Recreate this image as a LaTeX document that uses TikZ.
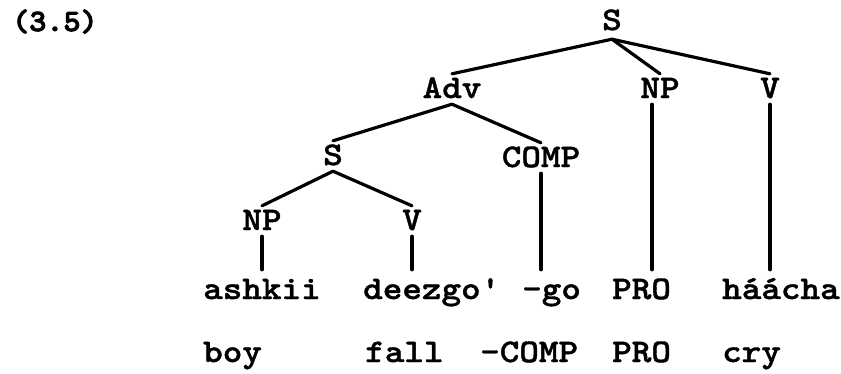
\documentclass[tikz,border=0pt]{standalone}
\usepackage{fontspec}
\newfontfamily\typewriter{lmmonolt10-bold}[Extension=.otf, FakeStretch=1.13, FakeBold=1.2]
\newfontfamily\heavytypewriter{lmmonolt10-bold}[Extension=.otf, FakeStretch=1.05, FakeBold=3]
\usetikzlibrary{positioning}
\newcommand{\treefont}{\fontsize{33}{40}\selectfont\typewriter}
\tikzset{
  cat/.style={font=\treefont, inner xsep=0pt, inner ysep=6pt, text height=18pt, text depth=0pt, anchor=base},
  word/.style={font=\treefont, inner xsep=0pt, inner ysep=5pt, text height=24pt, text depth=0pt, anchor=base west},
  branch/.style={line width=3.2pt, line cap=round}
}

\begin{document}
\begin{tikzpicture}[x=1pt, y=-1pt]
  \useasboundingbox (0,0) rectangle (841,373);

  % example number
  \node[word, font=\fontsize{31}{37}\selectfont\heavytypewriter] (num) at (12,31) {(3.5)};

  % categories
  \node[cat, inner ysep=9pt] (s0) at (612,30) {S};
  \node[cat] (adv) at (452,98) {Adv};
  \node[cat] (np) at (660,98) {NP};
  \node[cat] (v) at (770,98) {V};
  \node[cat] (s1) at (333,165) {S};
  \node[cat] (comp) at (541,167) {COMP};
  \node[cat] (np1) at (262,230) {NP};
  \node[cat] (v1) at (412,230) {V};

  % words
  \node[word] (ashkii) at (203,299) {ashkii};
  \node[word] (deezgo) at (363,299) {deezgo'};
  \node[word] (go) at (522,299) {-go};
  \node[word] (pro) at (612,299) {PRO};
  \node[word] (haacha) at (722,299) {háácha};

  % glosses
  \node[word] (boy) at (203,362) {boy};
  \node[word] (fall) at (365,362) {fall};
  \node[word] (gcomp) at (480,362) {-COMP};
  \node[word] (gpro) at (612,362) {PRO};
  \node[word] (cry) at (722,362) {cry};

  % branches
  \draw[branch] (s0.south) -- (adv.north);
  \draw[branch] (s0.south) -- (np.north);
  \draw[branch] (s0.south) -- (v.north);
  \draw[branch] (adv.south) -- (s1.north);
  \draw[branch] (adv.south) -- (comp.north);
  \draw[branch] (s1.south) -- (np1.north);
  \draw[branch] (s1.south) -- (v1.north);
  \draw[branch] (np1.south) -- (np1.south |- ashkii.north);
  \draw[branch] (v1.south) -- (v1.south |- deezgo.north);
  \draw[branch] (comp.south) -- (comp.south |- go.north);
  \draw[branch] ([xshift=-8pt]np.south) -- ([xshift=-8pt]np.south |- pro.north);
  \draw[branch] (v.south) -- (v.south |- haacha.north);
\end{tikzpicture}
\end{document}
